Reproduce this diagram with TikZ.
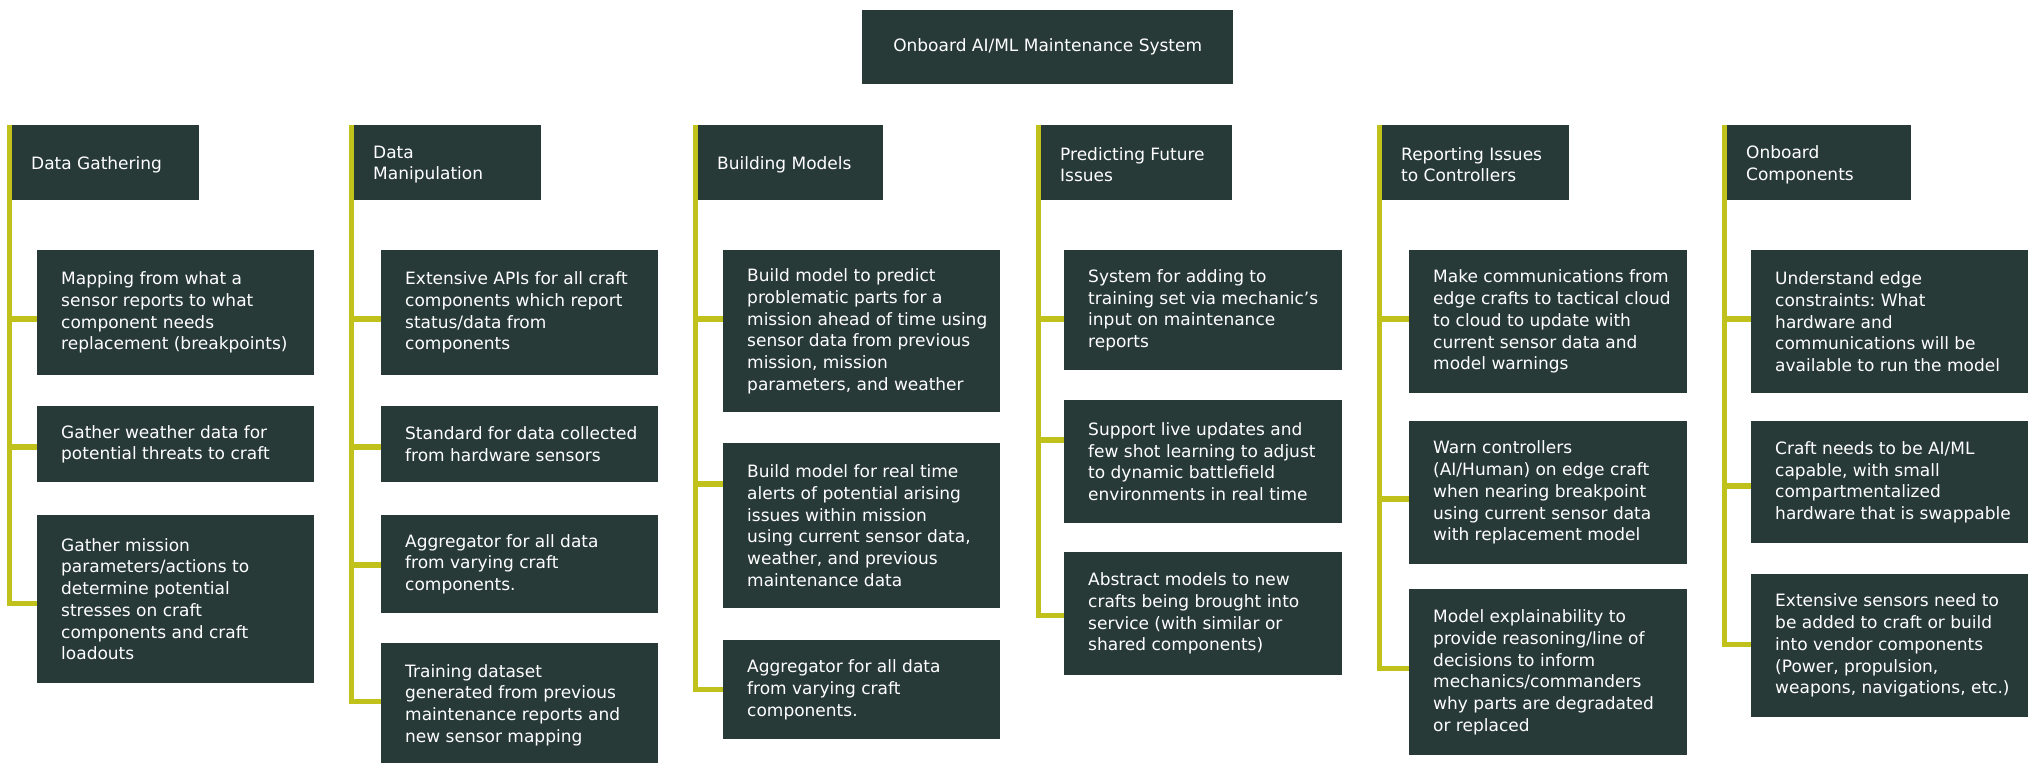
\documentclass[tikz,border=0pt]{standalone}
\usepackage{fontspec}
\setmainfont{DejaVu Sans}
\frenchspacing
\usetikzlibrary{calc}
\definecolor{boxfill}{HTML}{283A38}
\definecolor{branch}{HTML}{C0C21B}
\tikzset{
  card/.style={fill=boxfill, draw=none, anchor=north west, inner sep=0pt, rectangle},
  cardtext/.style={anchor=west, align=left, text=white, inner sep=0pt,
    font=\fontsize{17pt}{21.7pt}\selectfont},
  trunk/.style={draw=branch, line width=5pt, line join=miter},
  stub/.style={draw=branch, line width=6pt},
}
% card: name, x, y (top left), width, height, text
\newcommand\mkcard[6]{%
  \node[card, minimum width=#4pt, minimum height=#5pt] (#1) at (#2,#3) {};
  \node[cardtext] (#1-t) at ([xshift=24pt]#1.west) {#6};}
% column header: name, x, width, text
\newcommand\mkhead[4]{%
  \node[card, minimum width=#3pt, minimum height=75pt] (#1) at (#2,125) {};
  \node[cardtext] (#1-t) at ([xshift=19pt,yshift=-2pt]#1.west) {#4};}
\begin{document}
\begin{tikzpicture}[x=1pt, y=-1pt]
\fill[white] (0,0) rectangle (2029,763);
\useasboundingbox (0,0) rectangle (2029,763);

% root
\node[card, minimum width=371pt, minimum height=74pt] (root) at (862,10) {};
\node[cardtext, anchor=center] (root-t) at (root.center) {Onboard AI/ML Maintenance System};

% headers
\mkhead{h1}{12}{187}{Data Gathering}
\mkhead{h2}{354}{187}{Data\\Manipulation}
\mkhead{h3}{698}{185}{Building Models}
\mkhead{h4}{1041}{191}{Predicting Future\\Issues}
\mkhead{h5}{1382}{187}{Reporting Issues\\to Controllers}
\mkhead{h6}{1727}{184}{Onboard\\Components}

% column 1
\mkcard{c1a}{37}{250}{277}{125}{Mapping from what a\\sensor reports to what\\component needs\\replacement (breakpoints)}
\mkcard{c1b}{37}{406}{277}{76}{Gather weather data for\\potential threats to craft}
\mkcard{c1c}{37}{515}{277}{168}{Gather mission\\parameters/actions to\\determine potential\\stresses on craft\\components and craft\\loadouts}

% column 2
\mkcard{c2a}{381}{250}{277}{125}{Extensive APIs for all craft\\components which report\\status/data from\\components}
\mkcard{c2b}{381}{406}{277}{76}{Standard for data collected\\from hardware sensors}
\mkcard{c2c}{381}{515}{277}{98}{Aggregator for all data\\from varying craft\\components.}
\node[card, minimum width=277pt, minimum height=120pt] (c2d) at (381,643) {};
\node[cardtext, anchor=north west] (c2d-t) at ([xshift=24pt,yshift=-21pt]c2d.north west)
  {Training dataset\\generated from previous\\maintenance reports and\\new sensor mapping};

% column 3
\mkcard{c3a}{723}{250}{277}{162}{Build model to predict\\problematic parts for a\\mission ahead of time using\\sensor data from previous\\mission, mission\\parameters, and weather}
\mkcard{c3b}{723}{443}{277}{165}{Build model for real time\\alerts of potential arising\\issues within mission\\using current sensor data,\\weather, and previous\\maintenance data}
\mkcard{c3c}{723}{640}{277}{99}{Aggregator for all data\\from varying craft\\components.}

% column 4
\mkcard{c4a}{1064}{250}{278}{120}{System for adding to\\training set via mechanic's\\input on maintenance\\reports}
\mkcard{c4b}{1064}{400}{278}{123}{Support live updates and\\few shot learning to adjust\\to dynamic battlefield\\environments in real time}
\mkcard{c4c}{1064}{552}{278}{123}{Abstract models to new\\crafts being brought into\\service (with similar or\\shared components)}

% column 5
\mkcard{c5a}{1409}{250}{278}{143}{Make communications from\\edge crafts to tactical cloud\\to cloud to update with\\current sensor data and\\model warnings}
\mkcard{c5b}{1409}{421}{278}{143}{Warn controllers\\(AI/Human) on edge craft\\when nearing breakpoint\\using current sensor data\\with replacement model}
\mkcard{c5c}{1409}{589}{278}{166}{Model explainability to\\provide reasoning/line of\\decisions to inform\\mechanics/commanders\\why parts are degradated\\or replaced}

% column 6
\mkcard{c6a}{1751}{250}{277}{143}{Understand edge\\constraints: What\\hardware and\\communications will be\\available to run the model}
\mkcard{c6b}{1751}{421}{277}{122}{Craft needs to be AI/ML\\capable, with small\\compartmentalized\\hardware that is swappable}
\mkcard{c6c}{1751}{574}{277}{143}{Extensive sensors need to\\be added to craft or build\\into vendor components\\(Power, propulsion,\\weapons, navigations, etc.)}

% trunk lines along the header edges
\foreach \h in {h1,h2,h3,h4,h5,h6}
  \coordinate (\h-top) at ([xshift=-2.5pt]\h.north west);

% branch points on the card edges
\foreach \c/\d in {c1a/69,c1b/41,c1c/88,
                   c2a/69,c2b/41,c2c/50,c2d/58,
                   c3a/69,c3b/41,c3c/49,
                   c4a/69,c4b/40,c4c/63,
                   c5a/69,c5b/78,c5c/79,
                   c6a/69,c6b/65,c6c/70}
  \coordinate (\c-in) at ([yshift=-\d pt]\c.north west);

% trunks ending in the last branch
\foreach \h/\c in {h1/c1c,h2/c2d,h3/c3c,h4/c4c,h5/c5c,h6/c6c}
  \draw[trunk] (\h-top) -- (\h-top |- \c-in) -- (\c-in);

% remaining branches
\foreach \h/\c in {h1/c1a,h1/c1b,h2/c2a,h2/c2b,h2/c2c,h3/c3a,h3/c3b,
                   h4/c4a,h4/c4b,h5/c5a,h5/c5b,h6/c6a,h6/c6b}
  \draw[stub] (\h-top |- \c-in) -- (\c-in);
\end{tikzpicture}
\end{document}
